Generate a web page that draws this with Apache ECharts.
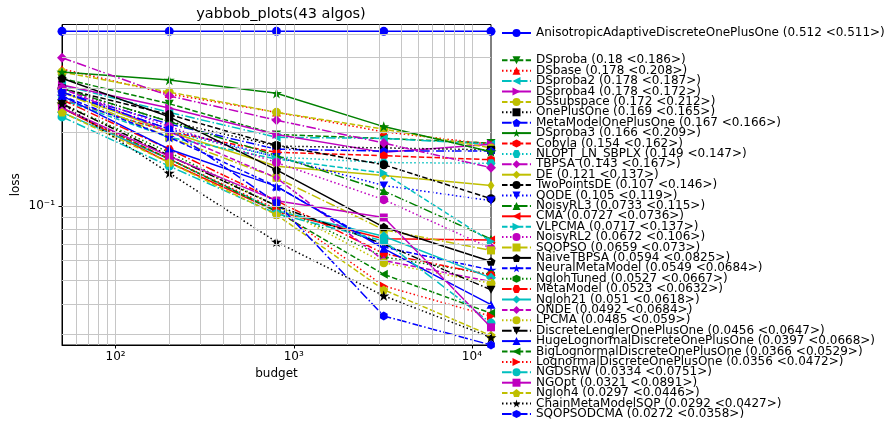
<!DOCTYPE html>
<html><head><meta charset="utf-8">
<script src="https://cdn.jsdelivr.net/npm/echarts@6/dist/echarts.min.js"></script>
<style>html,body{margin:0;padding:0;background:#fff}#c{width:885px;height:422px}</style>
</head><body><div id="c"></div><script>
const budgets = [50, 200, 800, 3200, 12800];
const labels = [
 'AnisotropicAdaptiveDiscreteOnePlusOne (0.512 <0.511>)',
 'DSproba (0.18 <0.186>)','DSbase (0.178 <0.208>)','DSproba2 (0.178 <0.187>)','DSproba4 (0.178 <0.172>)',
 'DSsubspace (0.172 <0.212>)','OnePlusOne (0.169 <0.165>)','MetaModelOnePlusOne (0.167 <0.166>)',
 'DSproba3 (0.166 <0.209>)','Cobyla (0.154 <0.162>)','NLOPT_LN_SBPLX (0.149 <0.147>)','TBPSA (0.143 <0.167>)',
 'DE (0.121 <0.137>)','TwoPointsDE (0.107 <0.146>)','QODE (0.105 <0.119>)','NoisyRL3 (0.0733 <0.115>)',
 'CMA (0.0727 <0.0736>)','VLPCMA (0.0717 <0.137>)','NoisyRL2 (0.0672 <0.106>)','SQOPSO (0.0659 <0.073>)',
 'NaiveTBPSA (0.0594 <0.0825>)','NeuralMetaModel (0.0549 <0.0684>)','NglohTuned (0.0527 <0.0667>)',
 'MetaModel (0.0523 <0.0632>)','Ngloh21 (0.051 <0.0618>)','QNDE (0.0492 <0.0684>)','LPCMA (0.0485 <0.059>)',
 'DiscreteLenglerOnePlusOne (0.0456 <0.0647>)','HugeLognormalDiscreteOnePlusOne (0.0397 <0.0668>)',
 'BigLognormalDiscreteOnePlusOne (0.0366 <0.0529>)','LognormalDiscreteOnePlusOne (0.0356 <0.0472>)',
 'NGDSRW (0.0334 <0.0751>)','NGOpt (0.0321 <0.0891>)','Ngloh4 (0.0297 <0.0446>)',
 'ChainMetaModelSQP (0.0292 <0.0427>)','SQOPSODCMA (0.0272 <0.0358>)'
];
const loss50 = [0.512,0.33,0.36,0.31,0.31,0.35,0.30,0.29,0.35,0.27,0.27,0.40,0.29,0.30,0.29,0.30,0.25,0.27,0.30,0.29,0.33,0.28,0.26,0.27,0.24,0.30,0.26,0.26,0.28,0.25,0.25,0.23,0.25,0.24,0.26,0.29];
const loss200 = [0.512,0.26,0.285,0.24,0.25,0.29,0.22,0.215,0.325,0.20,0.20,0.28,0.20,0.235,0.205,0.22,0.15,0.19,0.21,0.19,0.23,0.19,0.165,0.17,0.155,0.20,0.16,0.16,0.17,0.155,0.155,0.145,0.159,0.15,0.136,0.205];
const loss800 = [0.512,0.195,0.24,0.19,0.195,0.24,0.175,0.17,0.287,0.165,0.158,0.223,0.145,0.176,0.158,0.16,0.095,0.155,0.15,0.13,0.14,0.12,0.10,0.105,0.0955,0.13,0.10,0.10,0.12,0.095,0.097,0.093,0.105,0.092,0.0714,0.103];
const loss3200 = [0.512,0.188,0.20,0.188,0.165,0.205,0.172,0.167,0.21,0.16,0.15,0.18,0.133,0.147,0.121,0.115,0.0735,0.136,0.106,0.08,0.082,0.068,0.062,0.064,0.0753,0.06,0.0587,0.07,0.067,0.0527,0.0473,0.072,0.0897,0.0456,0.0431,0.0357];
const loss12800 = [0.512,0.18,0.178,0.178,0.178,0.172,0.169,0.167,0.166,0.154,0.149,0.143,0.121,0.107,0.105,0.0733,0.0727,0.0717,0.0672,0.0659,0.0594,0.0549,0.0527,0.0523,0.051,0.0492,0.0485,0.0456,0.0397,0.0366,0.0356,0.0334,0.0321,0.0297,0.0292,0.0272];
const xGrid = [60,70,80,90,100,200,300,400,500,600,700,800,900,1000,2000,3000,4000,5000,6000,7000,8000,9000,10000];
const yGrid = [0.03,0.04,0.05,0.06,0.07,0.08,0.09,0.1,0.2,0.3,0.4,0.5];

const colors = ['#0000ff','#008000','#ff0000','#00bfbf','#bf00bf','#bfbf00','#000000'];
const dashes = ['solid',[5.5,2.4],[1.5,2.5],[9.6,2.4,1.5,2.4]];
const SYM = {
  o:['circle',9], v:['path://M0,0L10,0L5,9Z',9], '^':['path://M5,0L10,9L0,9Z',9],
  '<':['path://M0,5L9,0L9,10Z',9], '>':['path://M9,5L0,0L0,10Z',9], '8':['circle',9], s:['rect',8],
  p:['path://M10,0L19.51,6.91L15.88,18.09L4.12,18.09L0.49,6.91Z',9],
  '*':['path://M10,0L12.245,6.91L19.511,6.91L13.633,11.18L15.878,18.09L10,13.82L4.122,18.09L6.367,11.18L0.489,6.91L7.755,6.91Z',11],
  h:['path://M8.66,0L17.32,5L17.32,15L8.66,20L0,15L0,5Z',9],
  H:['path://M0,8.66L5,0L15,0L20,8.66L15,17.32L5,17.32Z',9],
  D:['diamond',10], d:['path://M3.5,0L7,5L3.5,10L0,5Z',10]
};
const markerCycle = ['o','v','^','<','>','8','s','p','*','h','H','D','d'];
const sup = {'2':'\u00b2','3':'\u00b3','4':'\u2074','-1':'\u207b\u00b9'};
function powLabel(v){
  const e = Math.log10(v), r = Math.round(e);
  if (Math.abs(e - r) < 1e-6 && sup[String(r)]) return '10' + sup[String(r)];
  return '';
}

const series = [{
  type:'line', name:'__grid', data:[], z:1, silent:true, symbol:'none',
  markLine:{silent:true, symbol:['none','none'], animation:false, label:{show:false},
    emphasis:{disabled:true}, lineStyle:{color:'#c6c6c6', width:1, type:'solid'},
    data:[...xGrid.map(v=>({xAxis:v})), ...yGrid.map(v=>({yAxis:v}))]}
}];
labels.forEach((lab,i)=>{
  const m = SYM[markerCycle[i % markerCycle.length]];
  const c = colors[i % colors.length];
  const vals = [loss50[i], loss200[i], loss800[i], loss3200[i], loss12800[i]];
  series.push({
    type:'line', name:lab, z:2+i*0.01,
    data: budgets.map((b,k)=>[b, vals[k]]),
    symbol:m[0], symbolSize:m[1], symbolKeepAspect:true, showSymbol:true,
    lineStyle:{color:c, width:1.5, type:dashes[i % dashes.length]},
    itemStyle:{color:c, borderWidth:0},
    emphasis:{disabled:true}, animation:false
  });
});

const legendBase = {orient:'vertical', left:501, itemWidth:29, itemHeight:10, itemGap:-1.6, padding:0, height:400,
  selectedMode:false, textStyle:{fontSize:12, fontFamily:'DejaVu Sans', lineHeight:10, color:'#000'}};

const chart = echarts.init(document.getElementById('c'), null, {renderer:'canvas'});
chart.setOption({
  animation:false,
  backgroundColor:'#fff',
  title:{text:'yabbob_plots(43 algos)', left:276, top:2, textAlign:'center',
    textStyle:{fontSize:14.5, fontWeight:'normal', fontFamily:'DejaVu Sans', color:'#000'}},
  grid:{left:62, right:394, top:24.5, bottom:77, show:true, borderColor:'#000', borderWidth:1, backgroundColor:'transparent'},
  legend:[
    Object.assign({}, legendBase, {top:27, data:[labels[0]]}),
    Object.assign({}, legendBase, {top:54.3, data:labels.slice(1)})
  ],
  xAxis:{type:'log', logBase:10, min:50, max:12800, name:'budget', nameLocation:'middle', nameGap:23,
    nameTextStyle:{fontSize:12, fontFamily:'DejaVu Sans', color:'#000'},
    axisLine:{lineStyle:{color:'#000', width:1}}, axisTick:{length:3.5, lineStyle:{color:'#000'}},
    axisLabel:{formatter:powLabel, fontSize:12, fontFamily:'DejaVu Sans', color:'#000', margin:6, showMinLabel:false, showMaxLabel:false},
    splitLine:{show:false}},
  yAxis:{type:'log', logBase:10, min:0.0272, max:0.546, name:'loss', nameLocation:'middle', nameGap:40,
    nameTextStyle:{fontSize:12, fontFamily:'DejaVu Sans', color:'#000'},
    axisLine:{show:true, lineStyle:{color:'#000', width:1}}, axisTick:{show:true, length:3.5, lineStyle:{color:'#000'}},
    axisLabel:{formatter:powLabel, fontSize:12, fontFamily:'DejaVu Sans', color:'#000', margin:7, showMinLabel:false, showMaxLabel:false},
    splitLine:{show:false}},
  series:series
});
</script></body></html>
